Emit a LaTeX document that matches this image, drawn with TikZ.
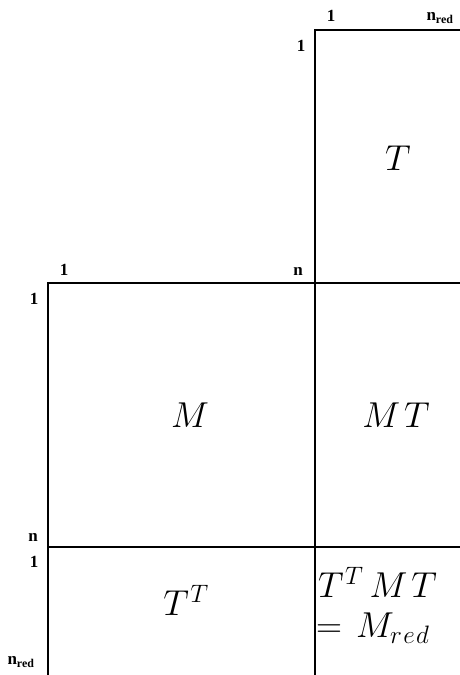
\documentclass[tikz,border=0pt]{standalone}
\usepackage{fix-cm}
\usepackage{fontspec}
\setmainfont{Liberation Serif}
\begin{document}
\begin{tikzpicture}[x=1pt,y=-1pt,
  grid/.style={line width=2pt,line cap=rect},
  idx/.style={font=\bfseries\fontsize{17}{18}\selectfont,inner sep=0pt},
  big/.style={font=\fontsize{36}{40}\selectfont,inner sep=0pt}]
\useasboundingbox (0,0) rectangle (460,675);
\clip (0,0) rectangle (460,675);
% corner coordinates
\coordinate (tTL) at (315,30);
\coordinate (tTR) at (462,30);
\coordinate (mTL) at (48,283);
\coordinate (mTC) at (315,283);
\coordinate (mTR) at (462,283);
\coordinate (bL) at (48,547);
\coordinate (bC) at (315,547);
\coordinate (bR) at (462,547);
\coordinate (botL) at (48,677);
\coordinate (botC) at (315,677);
\draw[grid] (tTR) -- (tTL) -- (botC);
\draw[grid] (mTR) -- (mTL) -- (botL);
\draw[grid] (bL) -- (bR);
% index labels
\node[idx] (a1) at (331,16) {1};
\node[idx] (a2) at (440,18) {n\textsubscript{red}};
\node[idx] (a3) at (301,46) {1};
\node[idx] (b1) at (64,270) {1};
\node[idx] (b2) at (298,271) {n};
\node[idx] (b3) at (34,299) {1};
\node[idx] (c1) at (33,537) {n};
\node[idx] (c2) at (34,562) {1};
\node[idx] (c3) at (21,662) {n\textsubscript{red}};
% matrix labels
\node[big] (T) at (398,158) {$T$};
\node[big] (M) at (190,415) {$M$};
\node[big] (MT) at (396,415) {$M\mkern2mu T$};
\node[big] (TT) at (186,600) {$T^{\mkern1mu T}$};
\node[big,anchor=west] (R1) at (318,582) {$T^{\mkern1mu T}\mkern3mu M\mkern2mu T$};
\node[big,anchor=west] (R2) at (316,628) {$=\mkern2mu M_{r\mkern1mu e\mkern1mu d}$};
\end{tikzpicture}
\end{document}
